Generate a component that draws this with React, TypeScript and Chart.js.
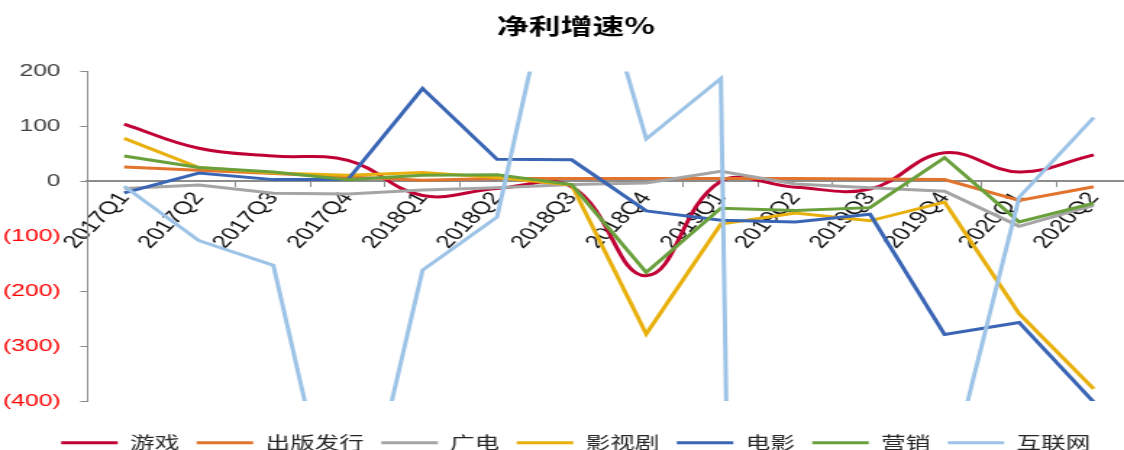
import React, { useEffect, useRef } from 'react';
import { Chart, registerables } from 'chart.js';

Chart.register(...registerables);

const categories = ['2017Q1', '2017Q2', '2017Q3', '2017Q4', '2018Q1', '2018Q2', '2018Q3', '2018Q4', '2019Q1', '2019Q2', '2019Q3', '2019Q4', '2020Q1', '2020Q2'];

const youxi = [104, 60, 46, 38, -26, -13, -10, -172, 0, -11, -14, 52, 17, 48];
const chuban = [26, 20, 14, 8, 2, 5, 5, 5, 5, 5, 4, 3, -35, -10];
const guangdian = [-13, -7, -22, -23, -16, -12, -6, -3, 18, -5, -12, -18, -82, -44];
const yingshiju = [78, 25, 15, 11, 16, 7, -7, -278, -78, -58, -72, -38, -241, -378];
const dianying = [-21, 15, 3, 3, 169, 40, 39, -54, -71, -74, -60, -279, -257, -402];
const yingxiao = [46, 25, 17, 3, 11, 12, -6, -166, -49, -53, -48, 43, -74, -40];
const hulianwang = [-9, -108, -153, -740, -162, -65, 540, 77, 187, -8000, -3000, -567, -29, 116];

const seriesNames = ['游戏', '出版发行', '广电', '影视剧', '电影', '营销', '互联网'];
const seriesColors = ['#C00035', '#E2742E', '#A5A5A5', '#E8B00C', '#3A65B5', '#69A03C', '#9DC3E6'];
const seriesValues = [youxi, chuban, guangdian, yingshiju, dianying, yingxiao, hulianwang];
const smoothSeries = [true, false, false, false, false, false, false];

const yMin = -400;
const yMax = 200;
const yStep = 100;

const STRETCH = 1.4485;
const CANVAS_W = 795;
const CANVAS_H = 450;

export default function App() {
  const ref = useRef<HTMLCanvasElement>(null);

  useEffect(() => {
    const canvas = ref.current;
    if (!canvas) return;
    const datasets = seriesNames.map((name, i) => ({
      label: name,
      data: seriesValues[i],
      borderColor: seriesColors[i],
      backgroundColor: seriesColors[i],
      borderWidth: 3,
      pointRadius: 0,
      pointHoverRadius: 0,
      tension: smoothSeries[i] ? 0.4 : 0,
      fill: false,
      clip: 0,
      order: seriesNames.length - i,
      xAxisID: 'x',
      yAxisID: 'y',
    }));

    const chart = new Chart(canvas, {
      type: 'line',
      data: { labels: categories, datasets },
      options: {
        responsive: false,
        animation: false,
        devicePixelRatio: 1,
        events: [],
        layout: { padding: { top: 0, left: 0, right: 0, bottom: -11.2 } },
        plugins: {
          title: {
            display: true,
            text: '净利增速%',
            color: '#000000',
            font: { family: "'Noto Sans CJK SC', sans-serif", size: 22, weight: 'bold' },
            padding: { top: 12.5, bottom: 32.5 },
          },
          legend: {
            display: true,
            position: 'bottom',
            labels: {
              boxWidth: 39,
              boxHeight: 3,
              padding: 12,
              color: '#262626',
              font: { family: "'Noto Sans CJK SC', sans-serif", size: 17 },
              sort: (a: any, b: any) => a.datasetIndex - b.datasetIndex,
              generateLabels: (c: any) =>
                (Chart.defaults.plugins.legend.labels.generateLabels as any)(c).map((l: any) => ({
                  ...l,
                  lineWidth: 0,
                })),
            },
          },
          tooltip: { enabled: false },
        },
        scales: {
          x: {
            type: 'category',
            position: { y: 0 } as any,
            offset: true,
            grid: {
              offset: true,
              drawOnChartArea: false,
              drawTicks: true,
              tickLength: 5,
              color: '#8C8C8C',
              lineWidth: 1,
            },
            border: { display: true, color: '#8C8C8C', width: 2 },
            ticks: {
              autoSkip: false,
              maxRotation: 54,
              minRotation: 54,
              padding: 2,
              color: '#111111',
              font: { family: "'Liberation Sans', Arial, sans-serif", size: 18 },
            },
          },
          y: {
            type: 'linear',
            position: 'left',
            min: yMin,
            max: yMax,
            afterFit: (s: any) => {
              s.width = 60;
            },
            ticks: {
              stepSize: yStep,
              padding: 13.6,
              callback: (v: any) => (Number(v) < 0 ? `(${-Number(v)})` : `${v}`),
              color: (ctx: any) => (ctx.tick && ctx.tick.value < 0 ? '#FF0000' : '#404040'),
              font: { family: "'Liberation Sans', Arial, sans-serif", size: 17 },
            },
            grid: { drawOnChartArea: false, drawTicks: true, tickLength: 4.6, color: '#8C8C8C' },
            border: { display: true, color: '#8C8C8C', width: 1 },
          },
          xPad: {
            type: 'linear',
            position: 'bottom',
            afterFit: (s: any) => {
              s.height = 21.2;
            },
            ticks: { display: false },
            grid: { display: false },
            border: { display: false },
          },
          yPad: {
            type: 'linear',
            position: 'right',
            afterFit: (s: any) => {
              s.width = 14.2;
            },
            ticks: { display: false },
            grid: { display: false },
            border: { display: false },
          },
        },
      } as any,
    });
    return () => chart.destroy();
  }, []);

  return (
    <div
      style={{
        position: 'fixed',
        left: 0,
        top: 0,
        width: 1124,
        height: 450,
        overflow: 'hidden',
        background: '#ffffff',
      }}
    >
      <canvas
        ref={ref}
        width={CANVAS_W}
        height={CANVAS_H}
        style={{ transform: `scaleX(${STRETCH})`, transformOrigin: '0 0', display: 'block' }}
      />
    </div>
  );
}
